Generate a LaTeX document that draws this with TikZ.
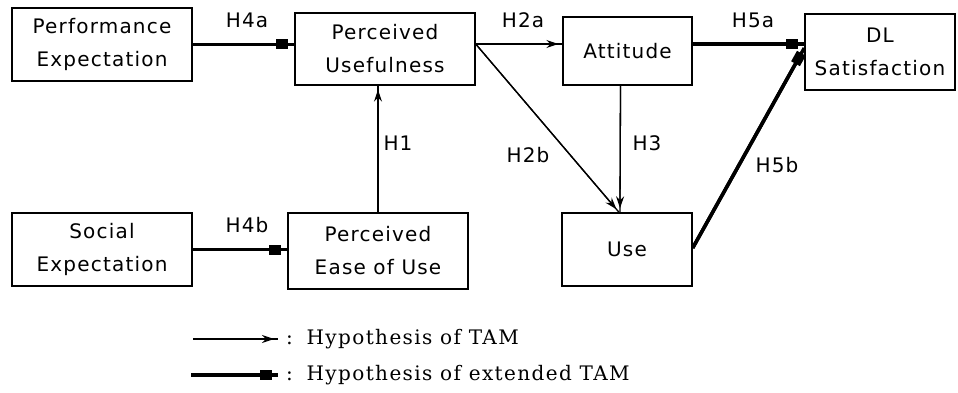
\documentclass[tikz,border=0pt]{standalone}
\usepackage{fontspec}
\setmainfont{DejaVu Sans}[LetterSpace=6]
\newfontfamily\legfont{DejaVu Serif}[LetterSpace=7]
\usetikzlibrary{arrows.meta}
\begin{document}
\begin{tikzpicture}[x=1pt,y=-1pt,
  box/.style={draw, line width=1.4pt, align=center, inner sep=0pt,
    font=\fontsize{20}{33}\selectfont},
  lab/.style={font=\fontsize{20}{22}\selectfont, inner sep=0pt},
  tamarr/.style={line width=1.3pt, postaction={draw, -{Stealth[length=12pt,width=8pt,inset=4pt]}, shorten >=4pt}},
  extarr/.style={line width=3.5pt, postaction={draw, -{Square[length=12pt,width=10pt]}, shorten >=6pt}},
  legtext/.style={font=\legfont\fontsize{20}{22}\selectfont, anchor=west, inner sep=0pt}
]
\useasboundingbox (0,0) rectangle (958,393);
\node[box, minimum width=180pt, minimum height=73pt] (PE) at (102,44.5) {Performance\\Expectation};
\node[box, minimum width=180pt, minimum height=72pt] (PU) at (385,49) {Perceived\\Usefulness};
\node[box, minimum width=129pt, minimum height=68pt] (Att) at (627.5,51) {Attitude};
\node[box, minimum width=150pt, minimum height=76pt] (DL) at (880,52) {DL\\Satisfaction};
\node[box, minimum width=180pt, minimum height=73pt] (SE) at (102,249.5) {Social\\Expectation};
\node[box, minimum width=180pt, minimum height=76pt] (PEOU) at (378,251) {Perceived\\Ease of Use};
\node[box, minimum width=130pt, minimum height=73pt] (Use) at (627,249.5) {Use};

\draw[extarr] (PE.east) -- (PE.east -| PU.west);
\draw[tamarr] (PEOU.north) -- (PEOU.north |- PU.south);
\draw[tamarr] ([yshift=5pt]PU.east) -- ([yshift=5pt]PU.east -| Att.west);
\draw[tamarr] ([yshift=5pt]PU.east) -- ([xshift=-8pt]Use.north);
\draw[tamarr] ([xshift=-7pt]Att.south) -- ([xshift=-7pt]Use.north);
\draw[extarr] ([yshift=7pt]Att.east) -- ([yshift=8pt]DL.west);
\draw[extarr] ([yshift=1.5pt]Use.east) -- ([yshift=4pt]DL.west);
\draw[extarr] (SE.east) -- (SE.east -| PEOU.west);

\node[lab] (l4a) at (247,20) {H4a};
\node[lab] (l2a) at (523,20) {H2a};
\node[lab] (l5a) at (753,20) {H5a};
\node[lab] (l1) at (398,143) {H1};
\node[lab] (l3) at (647,143) {H3};
\node[lab] (l2b) at (528,155) {H2b};
\node[lab] (l5b) at (777,165) {H5b};
\node[lab] (l4b) at (247,225) {H4b};

\coordinate (a1) at (193,339);
\coordinate (b1) at (278,339);
\coordinate (a2) at (191,375);
\coordinate (b2) at (278,375);
\draw[tamarr] (a1) -- (b1);
\draw[extarr] (a2) -- (b2);
\node[legtext] (t1) at (286,339) {:\, Hypothesis of TAM};
\node[legtext] (t2) at (286,375) {:\, Hypothesis of extended TAM};
\end{tikzpicture}
\end{document}
